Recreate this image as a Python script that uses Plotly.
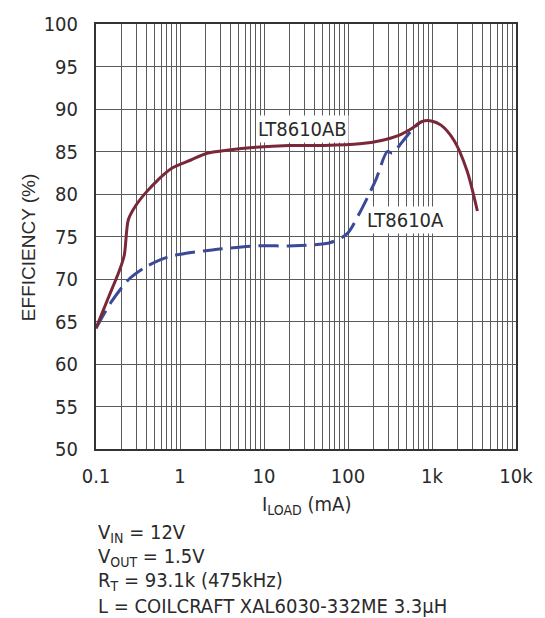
import math
import plotly.graph_objects as go

# LT8610AB (solid) efficiency curve
ab_x = [0.1, 0.139, 0.19, 0.217, 0.243, 0.296, 0.387, 0.552, 0.79, 1.35, 2.1, 3.6, 8, 20, 52,
        138, 250, 403, 574, 750, 980, 1280, 1830, 2600, 3470]
ab_y = [64.2, 67.7, 71.0, 72.8, 77.0, 78.6, 80.1, 81.7, 83.0, 84.0, 84.8, 85.15, 85.5, 85.7, 85.7,
        85.9, 86.3, 86.9, 87.7, 88.5, 88.6, 88.1, 86.3, 82.8, 78.0]

# LT8610A (dashed) efficiency curve
a_x = [0.1, 0.152, 0.248, 0.387, 0.72, 1.92, 8, 23, 62, 97, 138, 215, 294, 337, 440, 574, 700]
a_y = [64.2, 67.3, 70.0, 71.4, 72.6, 73.3, 73.9, 73.9, 74.3, 75.3, 77.8, 81.7, 85.0, 84.8, 86.1, 87.5, 88.3]

x_tickvals = [0.1, 1, 10, 100, 1000, 10000]
x_ticktext = ["0.1", "1", "10", "100", "1k", "10k"]
x_minor = [m * 10 ** e for e in range(-1, 4) for m in range(2, 10)]
y_tickvals = [50, 55, 60, 65, 70, 75, 80, 85, 90, 95, 100]

notes = ["V<sub>IN</sub> = 12V", "V<sub>OUT</sub> = 1.5V", "R<sub>T</sub> = 93.1k (475kHz)",
         "L = COILCRAFT XAL6030-332ME 3.3µH"]

NARROW = "Liberation Sans Narrow, DejaVu Sans Condensed, Arial Narrow, Liberation Sans, sans-serif"
REG = "Liberation Sans, Arial, sans-serif"
TXT = "#2a2a2a"
GRID = "#5a5a5a"

fig = go.Figure()
fig.add_trace(go.Scatter(x=a_x, y=a_y, mode="lines", line_shape="spline",
                         line=dict(color="#3b4a98", width=3, dash="20px,8px", smoothing=0.8)))
fig.add_trace(go.Scatter(x=ab_x, y=ab_y, mode="lines", line_shape="spline",
                         line=dict(color="#7a2838", width=3, smoothing=0.8)))

fig.update_xaxes(type="log", range=[-1, 4], tickvals=x_tickvals, ticktext=x_ticktext,
                 showgrid=True, gridcolor=GRID, gridwidth=1,
                 minor=dict(tickvals=x_minor, showgrid=True, gridcolor=GRID, gridwidth=1, ticks=""),
                 showline=True, linecolor="#333", linewidth=2, mirror=True, ticks="",
                 tickfont=dict(family=NARROW, size=20, color=TXT), ticklabelstandoff=8,
                 zeroline=False)
fig.update_yaxes(range=[50, 100], tickvals=y_tickvals,
                 showgrid=True, gridcolor=GRID, gridwidth=1,
                 showline=True, linecolor="#333", linewidth=2, mirror=True, ticks="",
                 tickfont=dict(family=NARROW, size=20, color=TXT), ticklabelstandoff=12,
                 zeroline=False)

ann = [
    dict(x=math.log10(28.4), y=87.6, xref="x", yref="y", text="LT8610AB", showarrow=False,
         bgcolor="white", font=dict(family=NARROW, size=20, color=TXT), borderpad=1),
    dict(x=math.log10(482), y=77.0, xref="x", yref="y", text="LT8610A", showarrow=False,
         bgcolor="white", font=dict(family=NARROW, size=20, color=TXT), borderpad=1),
    dict(x=(27 - 96) / 431, y=(449 - 245) / 430, xref="paper", yref="paper", text="EFFICIENCY (%)",
         textangle=-90, showarrow=False, xanchor="center", yanchor="middle",
         font=dict(family=REG, size=19, color=TXT)),
    dict(x=0.5, y=(449 - 506) / 430, xref="paper", yref="paper", text="I<sub>LOAD</sub> (mA)",
         showarrow=False, xanchor="center", yanchor="middle",
         font=dict(family=NARROW, size=20, color=TXT)),
]
for i, t in enumerate(notes):
    py = 534 + 24.5 * i
    ann.append(dict(x=0.0, y=(449 - py) / 430, xref="paper", yref="paper", text=t, showarrow=False,
                    xanchor="left", yanchor="middle", align="left",
                    font=dict(family=NARROW, size=20, color=TXT)))

fig.update_layout(width=545, height=618, margin=dict(l=96, r=18, t=19, b=169, pad=0),
                  plot_bgcolor="white", paper_bgcolor="white", showlegend=False,
                  annotations=ann)

fig.write_html("out.html")
